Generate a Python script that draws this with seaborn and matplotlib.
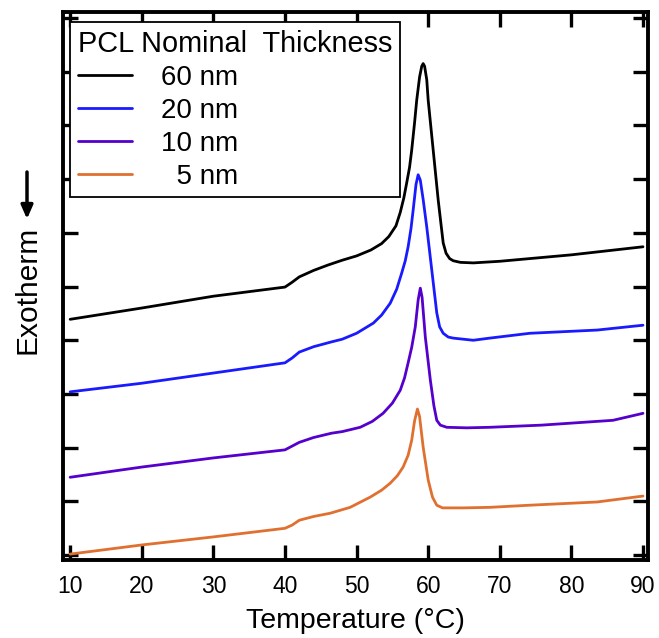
import matplotlib
matplotlib.use("Agg")
import matplotlib.pyplot as plt
import seaborn as sns
import pandas as pd

# ---- data ----
temp_60 = [10, 20, 30, 40, 41, 42, 44, 46, 48, 50, 52, 53.5, 54.5, 55.5, 56.1, 56.6, 57.0, 57.4, 57.7, 58.1, 58.4, 58.8, 59.1, 59.3, 59.5, 59.8, 60.0, 60.7, 61.4, 61.8, 62.1, 62.5, 63.0, 63.5, 64.5, 66.3, 70, 80, 90]
exo_60 = [4.39, 4.60, 4.82, 4.99, 5.08, 5.18, 5.30, 5.40, 5.49, 5.57, 5.68, 5.80, 5.93, 6.13, 6.38, 6.65, 6.93, 7.22, 7.54, 8.05, 8.47, 8.90, 9.10, 9.15, 9.10, 8.85, 8.47, 7.54, 6.61, 6.15, 5.81, 5.62, 5.52, 5.48, 5.45, 5.44, 5.47, 5.59, 5.74]

temp_20 = [10, 20, 30, 40, 41, 42, 44, 46.5, 48, 50, 52.35, 53.5, 54.7, 55.6, 56.3, 56.8, 57.2, 57.6, 57.9, 58.3, 58.6, 58.9, 59.3, 59.8, 60.5, 61.2, 61.6, 62.1, 62.8, 63.5, 66.3, 68.6, 74.2, 83.6, 90]
exo_20 = [3.04, 3.20, 3.39, 3.58, 3.67, 3.78, 3.88, 3.97, 4.02, 4.13, 4.32, 4.47, 4.69, 4.95, 5.25, 5.48, 5.74, 6.08, 6.42, 6.90, 7.08, 6.98, 6.62, 6.11, 5.31, 4.51, 4.25, 4.13, 4.06, 4.04, 4.00, 4.04, 4.13, 4.19, 4.28]

temp_10 = [10, 20, 30, 40, 41, 42, 44, 46.5, 48, 50.5, 52.2, 53.7, 55, 56.1, 56.7, 57.2, 57.7, 58.2, 58.6, 58.9, 59.15, 59.6, 60.3, 60.8, 61.2, 61.7, 62.6, 65.4, 68.6, 75.8, 85.8, 90]
exo_10 = [1.45, 1.64, 1.81, 1.96, 2.03, 2.10, 2.19, 2.27, 2.30, 2.38, 2.49, 2.64, 2.83, 3.07, 3.30, 3.58, 3.87, 4.25, 4.75, 4.97, 4.80, 4.06, 3.26, 2.78, 2.51, 2.42, 2.38, 2.37, 2.38, 2.42, 2.51, 2.64]

temp_5 = [10, 20, 30, 40, 41, 42, 44, 46.3, 49.1, 51.9, 53.5, 54.7, 55.7, 56.5, 57.2, 57.7, 58.1, 58.5, 58.8, 59.3, 60.0, 60.6, 61.2, 62.0, 63.1, 64.9, 68.6, 74.2, 83.6, 90]
exo_5 = [0.02, 0.19, 0.34, 0.50, 0.56, 0.65, 0.72, 0.78, 0.89, 1.08, 1.21, 1.34, 1.48, 1.64, 1.86, 2.14, 2.50, 2.72, 2.58, 2.01, 1.40, 1.08, 0.93, 0.88, 0.88, 0.88, 0.89, 0.93, 0.99, 1.10]

series_labels = ["60 nm", "20 nm", "10 nm", "  5 nm"]
series_colors = ["#000000", "#1a1aff", "#5500cc", "#e07030"]
x_ticks = [10, 20, 30, 40, 50, 60, 70, 80, 90]
y_ticks = list(range(0, 11))

sns.set_style("ticks")
plt.rcParams["font.family"] = ["Liberation Sans", "DejaVu Sans"]
for k in ["text.color", "axes.labelcolor", "xtick.color", "ytick.color", "axes.edgecolor"]:
    plt.rcParams[k] = "black"

frames = []
for lab, t, e in zip(series_labels, [temp_60, temp_20, temp_10, temp_5],
                     [exo_60, exo_20, exo_10, exo_5]):
    frames.append(pd.DataFrame({"Temperature": t, "Signal": e, "Thickness": lab}))
df = pd.concat(frames, ignore_index=True)

fig = plt.figure(figsize=(6.59, 6.38), dpi=100)
ax = fig.add_axes([63 / 659, 1 - 560 / 638, 585 / 659, 548 / 638])

sns.lineplot(data=df, x="Temperature", y="Signal", hue="Thickness",
             hue_order=series_labels, palette=series_colors,
             linewidth=2.0, sort=False, estimator=None, ax=ax)
for ln in ax.get_lines():
    ln.set_solid_joinstyle("round")

ax.set_xlim(9.0, 90.7)
ax.set_ylim(-0.09, 10.11)
ax.set_xticks(x_ticks)
ax.set_yticks(y_ticks)
ax.set_yticklabels([])
ax.tick_params(axis="both", direction="in", length=10.5, width=2.4,
               top=True, right=True, labelsize=16.5, pad=11, colors="black")
for s in ax.spines.values():
    s.set_linewidth(2.8)
    s.set_color("black")

ax.set_xlabel("Temperature (°C)", fontsize=20.5, labelpad=7)
ax.set_ylabel("")

fig.text(27 / 659, 1 - 290 / 638, "Exotherm", rotation=90, fontsize=21.5,
         ha="center", va="center")
ax.annotate("", xy=(27, 638 - 219), xytext=(27, 638 - 172),
            xycoords="figure pixels", textcoords="figure pixels",
            arrowprops=dict(arrowstyle="-|>,head_length=0.8,head_width=0.35",
                            color="black", lw=2.5, shrinkA=0, shrinkB=0))

handles, labels = ax.get_legend_handles_labels()
leg = ax.legend(handles, labels, title="PCL Nominal  Thickness",
                loc="upper left", bbox_to_anchor=(7 / 585, 1 - 10 / 548),
                borderaxespad=0, fontsize=20, title_fontsize=20.8,
                frameon=True, fancybox=False, framealpha=1,
                edgecolor="black", handlelength=1.95, handletextpad=1.05,
                labelspacing=0.25, borderpad=0.28, alignment="left")
leg.get_frame().set_linewidth(1.3)
for h in leg.get_lines():
    h.set_linewidth(2.0)

fig.savefig("out.png", dpi=100)
